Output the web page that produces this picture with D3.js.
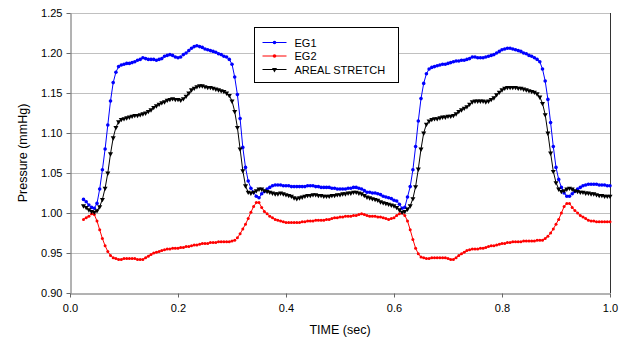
<!DOCTYPE html>
<html>
<head>
<meta charset="utf-8">
<script src="https://cdn.jsdelivr.net/npm/d3@7"></script>
<style>
  body { margin: 0; background: #fff; }
  text { font-family: "Liberation Sans", Arial, sans-serif; fill: #000; }
</style>
</head>
<body>
<div id="chart"></div>
<script>
// sampling grid (sec)
const T0 = 0.025, DT = 0.005;

const seriesNames = ["EG1", "EG2", "AREAL STRETCH"];

const eg1 = [
  1.017, 1.014, 1.010, 1.007, 1.006, 1.012, 1.030, 1.054, 1.080, 1.110,
  1.140, 1.163, 1.176, 1.183, 1.185, 1.186, 1.187, 1.187, 1.188, 1.189,
  1.191, 1.192, 1.194, 1.193, 1.192, 1.192, 1.192, 1.191, 1.192, 1.193,
  1.196, 1.197, 1.198, 1.197, 1.195, 1.194, 1.195, 1.198, 1.200, 1.203,
  1.206, 1.208, 1.209, 1.208, 1.207, 1.205, 1.204, 1.203, 1.202, 1.201,
  1.199, 1.198, 1.196, 1.195, 1.192, 1.186, 1.170, 1.148, 1.118, 1.082,
  1.057, 1.040, 1.031, 1.026, 1.021, 1.019, 1.024, 1.027, 1.030, 1.032,
  1.034, 1.035, 1.035, 1.035, 1.034, 1.034, 1.034, 1.033, 1.033, 1.033,
  1.033, 1.033, 1.033, 1.034, 1.034, 1.034, 1.033, 1.033, 1.032, 1.032,
  1.032, 1.032, 1.031, 1.031, 1.030, 1.030, 1.030, 1.030, 1.031, 1.031,
  1.032, 1.032, 1.031, 1.030, 1.028, 1.026, 1.026, 1.025, 1.025, 1.024,
  1.023, 1.021, 1.020, 1.019, 1.018, 1.016, 1.015, 1.011, 1.006, 1.007,
  1.020, 1.033, 1.054, 1.083, 1.115, 1.143, 1.162, 1.174, 1.180, 1.182,
  1.183, 1.184, 1.185, 1.186, 1.186, 1.187, 1.188, 1.189, 1.190, 1.190,
  1.191, 1.191, 1.192, 1.193, 1.195, 1.195, 1.194, 1.194, 1.194, 1.195,
  1.196, 1.197, 1.198, 1.200, 1.202, 1.204, 1.205, 1.206, 1.206, 1.205,
  1.204, 1.203, 1.202, 1.200, 1.199, 1.197, 1.196, 1.194, 1.192, 1.189,
  1.180, 1.165, 1.142, 1.113, 1.083, 1.057, 1.042, 1.032, 1.025, 1.021,
  1.021, 1.024, 1.027, 1.030, 1.032, 1.034, 1.035, 1.036, 1.036, 1.036,
  1.036, 1.035, 1.035, 1.035, 1.034, 1.034
];

const eg2 = [
  0.992, 0.994, 0.996, 0.999, 0.998, 0.990, 0.979, 0.968, 0.959, 0.952,
  0.947, 0.944, 0.943, 0.942, 0.942, 0.943, 0.943, 0.943, 0.943, 0.943,
  0.942, 0.942, 0.942, 0.944, 0.946, 0.948, 0.950, 0.951, 0.952, 0.953,
  0.954, 0.955, 0.955, 0.956, 0.956, 0.956, 0.957, 0.957, 0.958, 0.958,
  0.959, 0.960, 0.960, 0.961, 0.962, 0.962, 0.962, 0.963, 0.963, 0.963,
  0.964, 0.964, 0.964, 0.964, 0.964, 0.965, 0.966, 0.969, 0.974, 0.980,
  0.986, 0.993, 1.001, 1.008, 1.013, 1.013, 1.007, 1.002, 0.999, 0.996,
  0.994, 0.992, 0.991, 0.990, 0.989, 0.988, 0.988, 0.988, 0.988, 0.988,
  0.988, 0.989, 0.989, 0.990, 0.990, 0.990, 0.991, 0.991, 0.991, 0.991,
  0.992, 0.992, 0.993, 0.994, 0.994, 0.995, 0.995, 0.996, 0.996, 0.996,
  0.997, 0.997, 0.998, 0.999, 0.998, 0.997, 0.996, 0.996, 0.996, 0.995,
  0.995, 0.994, 0.993, 0.992, 0.993, 0.994, 0.997, 0.999, 1.000, 0.997,
  0.990, 0.979, 0.967, 0.956, 0.949, 0.945, 0.944, 0.943, 0.943, 0.944,
  0.944, 0.944, 0.944, 0.944, 0.944, 0.943, 0.942, 0.942, 0.944, 0.947,
  0.949, 0.951, 0.953, 0.954, 0.955, 0.955, 0.955, 0.956, 0.956, 0.957,
  0.958, 0.959, 0.959, 0.960, 0.961, 0.962, 0.962, 0.963, 0.963, 0.964,
  0.964, 0.964, 0.964, 0.965, 0.965, 0.965, 0.965, 0.965, 0.966, 0.966,
  0.966, 0.968, 0.971, 0.975, 0.980, 0.986, 0.992, 1.000, 1.008, 1.012,
  1.012, 1.007, 1.003, 1.000, 0.997, 0.995, 0.993, 0.991, 0.990, 0.990,
  0.989, 0.989, 0.989, 0.989, 0.989, 0.989
];

const arealStretch = [
  1.009, 1.007, 1.004, 1.002, 1.001, 1.003, 1.008, 1.017, 1.031, 1.050,
  1.074, 1.094, 1.107, 1.114, 1.117, 1.118, 1.119, 1.120, 1.121, 1.122,
  1.122, 1.123, 1.124, 1.125, 1.127, 1.129, 1.132, 1.134, 1.136, 1.138,
  1.139, 1.141, 1.142, 1.143, 1.142, 1.142, 1.141, 1.143, 1.146, 1.150,
  1.154, 1.156, 1.158, 1.159, 1.159, 1.158, 1.157, 1.157, 1.156, 1.155,
  1.154, 1.153, 1.152, 1.150, 1.147, 1.140, 1.127, 1.107, 1.080, 1.053,
  1.034, 1.026, 1.025, 1.026, 1.028, 1.030, 1.030, 1.028, 1.027, 1.026,
  1.025, 1.024, 1.024, 1.025, 1.024, 1.023, 1.022, 1.021, 1.019, 1.018,
  1.019, 1.020, 1.021, 1.022, 1.022, 1.023, 1.023, 1.022, 1.022, 1.021,
  1.021, 1.021, 1.022, 1.022, 1.023, 1.023, 1.024, 1.024, 1.025, 1.025,
  1.026, 1.026, 1.025, 1.024, 1.022, 1.020, 1.019, 1.018, 1.017, 1.016,
  1.014, 1.013, 1.012, 1.011, 1.010, 1.009, 1.007, 1.004, 1.001, 1.002,
  1.005, 1.009, 1.018, 1.033, 1.055, 1.080, 1.100, 1.111, 1.115, 1.117,
  1.118, 1.118, 1.119, 1.120, 1.120, 1.121, 1.121, 1.122, 1.124, 1.127,
  1.129, 1.131, 1.133, 1.136, 1.139, 1.140, 1.140, 1.140, 1.140, 1.139,
  1.140, 1.142, 1.144, 1.148, 1.151, 1.154, 1.156, 1.157, 1.157, 1.157,
  1.157, 1.156, 1.156, 1.155, 1.154, 1.153, 1.152, 1.151, 1.149, 1.145,
  1.137, 1.123, 1.100, 1.075, 1.052, 1.038, 1.030, 1.027, 1.028, 1.030,
  1.031, 1.030, 1.028, 1.027, 1.026, 1.026, 1.025, 1.025, 1.024, 1.024,
  1.023, 1.022, 1.022, 1.021, 1.021, 1.021
];

const xTicks = [0, 0.2, 0.4, 0.6, 0.8, 1.0];
const yTicks = [0.90, 0.95, 1.00, 1.05, 1.10, 1.15, 1.20, 1.25];

const colors = ["#0000ff", "#ff0000", "#000000"];

const width = 625, height = 341;
const margin = { top: 13, right: 15, bottom: 48, left: 70 };

const svg = d3.select("#chart").append("svg")
  .attr("width", width)
  .attr("height", height);

const x = d3.scaleLinear().domain([0, 1]).range([margin.left, width - margin.right]);
const y = d3.scaleLinear().domain([0.9, 1.25]).range([height - margin.bottom, margin.top]);

// gridlines
svg.append("g")
  .selectAll("line")
  .data(yTicks.slice(1))
  .enter().append("line")
  .attr("x1", x(0)).attr("x2", x(1))
  .attr("y1", d => Math.round(y(d)) + 0.5)
  .attr("y2", d => Math.round(y(d)) + 0.5)
  .attr("stroke", "#c0c0c0")
  .attr("stroke-width", 1);

// right border
svg.append("line")
  .attr("x1", Math.round(x(1)) + 0.5).attr("x2", Math.round(x(1)) + 0.5)
  .attr("y1", y(1.25)).attr("y2", y(0.9))
  .attr("stroke", "#333");

const xAxis = svg.append("g")
  .attr("transform", `translate(0,${Math.round(y(0.9)) + 0.5})`)
  .call(d3.axisBottom(x).tickValues(xTicks).tickFormat(d3.format(".1f")).tickSize(4).tickSizeOuter(0));

const yAxis = svg.append("g")
  .attr("transform", `translate(${Math.round(x(0)) + 0.5},0)`)
  .call(d3.axisLeft(y).tickValues(yTicks).tickFormat(d3.format(".2f")).tickSize(4).tickSizeOuter(0));

[xAxis, yAxis].forEach(g => {
  g.select(".domain").attr("stroke", "#666");
  g.selectAll(".tick line").attr("stroke", "#666");
  g.selectAll(".tick text").attr("font-size", 11)
    .attr("font-family", "Liberation Sans, Arial, sans-serif").attr("fill", "#000");
});
xAxis.selectAll(".tick text").attr("dy", "1.05em");
yAxis.selectAll(".tick text").attr("x", -8);

// axis titles
svg.append("text")
  .attr("x", (x(0) + x(1)) / 2)
  .attr("y", 334)
  .attr("text-anchor", "middle")
  .attr("font-size", 12.5)
  .text("TIME (sec)");

svg.append("text")
  .attr("transform", `translate(27,${(y(0.9) + y(1.25)) / 2}) rotate(-90)`)
  .attr("text-anchor", "middle")
  .attr("font-size", 12.5)
  .text("Pressure (mmHg)");

// series
const allSeries = [eg1, eg2, arealStretch].map((vals, k) => ({
  name: seriesNames[k],
  color: colors[k],
  points: vals.map((v, i) => ({ t: T0 + i * DT, v: v }))
}));

const line = d3.line().x(d => x(d.t)).y(d => y(d.v));
const tri = d3.symbol().type(d3.symbolTriangle).size(11);

allSeries.forEach((s, k) => {
  const g = svg.append("g");
  g.append("path")
    .attr("d", line(s.points))
    .attr("fill", "none")
    .attr("stroke", s.color)
    .attr("stroke-width", 1);
  if (k < 2) {
    g.selectAll("circle")
      .data(s.points)
      .enter().append("circle")
      .attr("cx", d => x(d.t))
      .attr("cy", d => y(d.v))
      .attr("r", k === 0 ? 1.8 : 1.5)
      .attr("fill", s.color);
  } else {
    g.selectAll("path.m")
      .data(s.points)
      .enter().append("path")
      .attr("class", "m")
      .attr("d", tri)
      .attr("transform", d => `translate(${x(d.t)},${y(d.v)}) rotate(180)`)
      .attr("fill", s.color);
  }
});

// legend
const legend = svg.append("g").attr("transform", "translate(254.5,27.5)");
legend.append("rect")
  .attr("width", 144).attr("height", 55)
  .attr("fill", "#fff").attr("stroke", "#000");

const rows = legend.selectAll("g.row")
  .data(allSeries)
  .enter().append("g")
  .attr("class", "row")
  .attr("transform", (d, i) => `translate(0,${15 + i * 13.5})`);

rows.append("line")
  .attr("x1", 8).attr("x2", 32)
  .attr("stroke", d => d.color);
rows.each(function(d, i) {
  const r = d3.select(this);
  if (i < 2) {
    r.append("circle").attr("cx", 20).attr("cy", 0).attr("r", 1.8).attr("fill", d.color);
  } else {
    r.append("path").attr("d", tri).attr("transform", "translate(20,0) rotate(180)").attr("fill", d.color);
  }
});
rows.append("text")
  .attr("x", 40).attr("y", 4)
  .attr("font-size", 11)
  .text(d => d.name);
</script>
</body>
</html>
